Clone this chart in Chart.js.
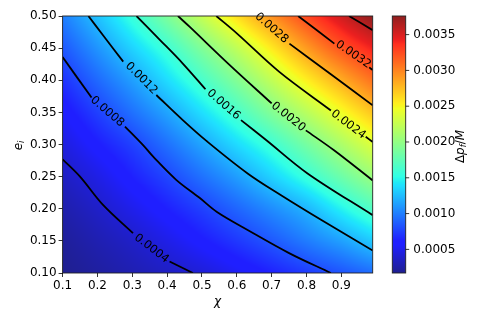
<!DOCTYPE html>
<html><head><meta charset="utf-8">
<script src="https://cdn.jsdelivr.net/npm/chart.js@4.4.1/dist/chart.umd.min.js"></script>
<style>html,body{margin:0;padding:0;background:#fff;}canvas{display:block;}</style>
</head><body>
<canvas id="c" width="485" height="323"></canvas>
<script>
// ---- data ----
const chiGrid = [0.1, 0.2, 0.3, 0.4, 0.5, 0.6, 0.7, 0.8, 0.9, 0.99];
const eGrid = [0.10, 0.15, 0.20, 0.25, 0.30, 0.35, 0.40, 0.45, 0.50];
const dpRow010 = [0.00017, 0.000228, 0.00029, 0.000353, 0.000426, 0.000527, 0.000628, 0.000729, 0.00083, 0.00093];
const dpRow015 = [0.000208, 0.00029, 0.000374, 0.000482, 0.000601, 0.00072, 0.000848, 0.000994, 0.00114, 0.001305];
const dpRow020 = [0.00027, 0.000372, 0.000494, 0.000624, 0.000754, 0.000902, 0.001059, 0.001224, 0.001465, 0.00168];
const dpRow025 = [0.00035, 0.000475, 0.000625, 0.000775, 0.000949, 0.001128, 0.001336, 0.001562, 0.001813, 0.00204];
const dpRow030 = [0.000446, 0.000607, 0.000757, 0.000947, 0.001154, 0.001372, 0.001593, 0.001855, 0.002125, 0.00237];
const dpRow035 = [0.000561, 0.000751, 0.000947, 0.001154, 0.00139, 0.001639, 0.001917, 0.00219, 0.002465, 0.00272];
const dpRow040 = [0.000693, 0.000915, 0.001133, 0.001378, 0.001639, 0.001921, 0.002229, 0.002533, 0.002823, 0.00308];
const dpRow045 = [0.000843, 0.00109, 0.001342, 0.001595, 0.001909, 0.002225, 0.002559, 0.002898, 0.003203, 0.00342];
const dpRow050 = [0.001, 0.001275, 0.001565, 0.001896, 0.002251, 0.002607, 0.002946, 0.003261, 0.003539, 0.00376];
const dpRows = [dpRow010, dpRow015, dpRow020, dpRow025, dpRow030, dpRow035, dpRow040, dpRow045, dpRow050];

// contour lines (chi, e); null = gap left for the inline label
const c0004 = [[0.1,0.277],[0.150,0.250],[0.216,0.206],[0.302,0.162],null,[0.407,0.118],[0.474,0.100]];
const c0008 = [[0.1,0.436],[0.183,0.373],null,[0.279,0.328],[0.331,0.299],[0.36,0.281],[0.426,0.245],[0.493,0.217],[0.543,0.195],[0.631,0.167],[0.75,0.131],[0.87,0.1]];
const c0012 = [[0.174,0.5],[0.216,0.470],[0.274,0.429],null,[0.369,0.377],[0.445,0.338],[0.512,0.306],[0.631,0.255],[0.727,0.221],[0.85,0.180],[0.99,0.135]];
const c0016 = [[0.312,0.5],[0.379,0.463],[0.445,0.426],[0.51,0.386],null,[0.612,0.338],[0.684,0.307],[0.803,0.255],[0.99,0.19]];
const c0020 = [[0.431,0.5],[0.465,0.483],[0.579,0.424],[0.70,0.364],null,[0.798,0.322],[0.879,0.291],[0.99,0.244]];
const c0024 = [[0.541,0.5],[0.60,0.473],[0.722,0.413],[0.870,0.353],null,[0.97,0.312],[0.99,0.304]];
const c0028 = [null,[0.751,0.457],[0.868,0.41],[0.99,0.361]];
const c0032 = [[0.776,0.5],[0.880,0.457],null,[0.98,0.42],[0.99,0.416]];
const c0036 = [[0.922,0.5],[0.99,0.478]];
const contours = [c0004, c0008, c0012, c0016, c0020, c0024, c0028, c0032, c0036];

const labelTexts = ['0.0004','0.0008','0.0012','0.0016','0.0020','0.0024','0.0028','0.0032'];
const labelChi   = [0.355, 0.228, 0.326, 0.562, 0.748, 0.92, 0.70, 0.934];
const labelE     = [0.138, 0.351, 0.403, 0.362, 0.343, 0.331, 0.481, 0.44];

const xTicks = [0.1, 0.2, 0.3, 0.4, 0.5, 0.6, 0.7, 0.8, 0.9];
const yTicks = [0.10, 0.15, 0.20, 0.25, 0.30, 0.35, 0.40, 0.45, 0.50];
const cbTicks = [0.0005, 0.0010, 0.0015, 0.0020, 0.0025, 0.0030, 0.0035];

// ---- helpers ----
const allVals = dpRows.flat();
const vmin = Math.min(...allVals), vmax = Math.max(...allVals);
const ALPHA = 0.88;
function seg(pts, t){
  for (let k = 0; k < pts.length - 1; k++) {
    if (t <= pts[k+1][0]) return pts[k][1] + (pts[k+1][1]-pts[k][1])*(t-pts[k][0])/(pts[k+1][0]-pts[k][0]);
  }
  return pts[pts.length-1][1];
}
const jR = [[0,0],[0.35,0],[0.66,1],[0.89,1],[1,0.5]];
const jG = [[0,0],[0.125,0],[0.375,1],[0.64,1],[0.91,0],[1,0]];
const jB = [[0,0.5],[0.11,1],[0.34,1],[0.65,0],[1,0]];
function jet(v){
  let t = (v - vmin)/(vmax - vmin); t = Math.max(0, Math.min(1, t));
  const f = c => Math.round(255 - ALPHA*(255 - 255*c));
  return [f(seg(jR,t)), f(seg(jG,t)), f(seg(jB,t))];
}
function fracIdx(arr, v){
  let i = 0; while (i < arr.length - 2 && v > arr[i+1]) i++;
  let t = (v - arr[i])/(arr[i+1]-arr[i]);
  return Math.max(0, Math.min(arr.length - 1, i + t));
}
function gv(i, j){
  const ni = chiGrid.length, nj = eGrid.length;
  if (i < 0) return 2*gv(0, j) - gv(1, j);
  if (i > ni - 1) return 2*gv(ni-1, j) - gv(ni-2, j);
  if (j < 0) return 2*gv(i, 0) - gv(i, 1);
  if (j > nj - 1) return 2*gv(i, nj-1) - gv(i, nj-2);
  return dpRows[j][i];
}
function cr(p0, p1, p2, p3, t){
  return 0.5*(2*p1 + (-p0 + p2)*t + (2*p0 - 5*p1 + 4*p2 - p3)*t*t + (-p0 + 3*p1 - 3*p2 + p3)*t*t*t);
}
function field(cx, ey){
  const fx = fracIdx(chiGrid, cx), fy = fracIdx(eGrid, ey);
  let i = Math.min(Math.floor(fx), chiGrid.length - 2), j = Math.min(Math.floor(fy), eGrid.length - 2);
  const t = fx - i, u = fy - j;
  const col = [];
  for (let m = -1; m <= 2; m++) col.push(cr(gv(i-1, j+m), gv(i, j+m), gv(i+1, j+m), gv(i+2, j+m), t));
  return cr(col[0], col[1], col[2], col[3], u);
}
function mathText(ctx, parts, cx, cy, rot){
  ctx.save();
  ctx.translate(cx, cy); ctx.rotate(rot);
  let W = 0;
  const ws = parts.map(p => { ctx.font = (p.it ? 'italic ' : '') + p.size + 'px "DejaVu Sans"'; const w = ctx.measureText(p.t).width; W += w; return w; });
  let x = -W/2;
  ctx.fillStyle = '#000'; ctx.textBaseline = 'alphabetic'; ctx.textAlign = 'left';
  parts.forEach((p, k) => { ctx.font = (p.it ? 'italic ' : '') + p.size + 'px "DejaVu Sans"'; ctx.fillText(p.t, x, p.dy || 0); x += ws[k]; });
  ctx.restore();
}

// ---- datasets: one per contour segment ----
const datasets = [];
contours.forEach(c => {
  let cur = [];
  c.forEach(p => {
    if (p === null) { if (cur.length) datasets.push(cur); cur = []; }
    else cur.push({x: p[0], y: p[1]});
  });
  if (cur.length) datasets.push(cur);
});

const fieldPlugin = {
  id: 'field',
  beforeDatasetsDraw(chart){
    const {ctx, chartArea: a, scales: {x, y}} = chart;
    const L = Math.floor(a.left), T = Math.floor(a.top), R = Math.ceil(a.right), B = Math.ceil(a.bottom);
    const w = R - L, h = B - T;
    const off = document.createElement('canvas'); off.width = w; off.height = h;
    const octx = off.getContext('2d'); const img = octx.createImageData(w, h);
    for (let j = 0; j < h; j++) {
      const ev = y.getValueForPixel(T + j + 0.5);
      for (let i = 0; i < w; i++) {
        const xv = x.getValueForPixel(L + i + 0.5);
        const col = jet(field(xv, ev));
        const k = (j*w + i)*4;
        img.data[k] = col[0]; img.data[k+1] = col[1]; img.data[k+2] = col[2]; img.data[k+3] = 255;
      }
    }
    octx.putImageData(img, 0, 0);
    ctx.save(); ctx.beginPath(); ctx.rect(a.left, a.top, a.right - a.left, a.bottom - a.top); ctx.clip();
    ctx.drawImage(off, L, T); ctx.restore();
  },
  afterDatasetsDraw(chart){
    const {ctx, chartArea: a, scales: {x, y}} = chart;
    labelTexts.forEach((txt, k) => {
      const c = contours[k];
      const gi = c.indexOf(null);
      const px = x.getPixelForValue(labelChi[k]), py = y.getPixelForValue(labelE[k]);
      const p0 = gi > 0 ? c[gi-1] : [labelChi[k], labelE[k]];
      const p1 = gi < c.length - 1 ? c[gi+1] : [labelChi[k], labelE[k]];
      const ang = Math.atan2(y.getPixelForValue(p1[1]) - y.getPixelForValue(p0[1]), x.getPixelForValue(p1[0]) - x.getPixelForValue(p0[0]));
      ctx.save(); ctx.translate(px, py); ctx.rotate(ang);
      ctx.font = '11.5px "DejaVu Sans"'; ctx.fillStyle = '#000'; ctx.textAlign = 'center'; ctx.textBaseline = 'middle';
      ctx.fillText(txt, 0, 0); ctx.restore();
    });
    ctx.save(); ctx.strokeStyle = '#222'; ctx.lineWidth = 0.9;
    ctx.strokeRect(a.left, a.top, a.right - a.left, a.bottom - a.top); ctx.restore();
  },
  afterDraw(chart){
    const {ctx, chartArea: a} = chart;
    const cb = chart.scales.cb;
    const x0 = cb.left + 19.6, cw = 13.4;
    for (let yy = Math.floor(cb.top); yy < Math.ceil(cb.bottom); yy++) {
      const c = jet(cb.getValueForPixel(yy + 0.5));
      ctx.fillStyle = 'rgb(' + c.join(',') + ')';
      ctx.fillRect(x0, yy, cw, 1);
    }
    ctx.save(); ctx.strokeStyle = '#222'; ctx.lineWidth = 0.9;
    ctx.strokeRect(x0, cb.top, cw, cb.bottom - cb.top);
    ctx.beginPath();
    cbTicks.forEach(v => { const yy = cb.getPixelForValue(v); ctx.moveTo(x0 + cw, yy); ctx.lineTo(x0 + cw + 3.5, yy); });
    ctx.strokeStyle = '#000'; ctx.lineWidth = 0.8; ctx.stroke(); ctx.restore();
    const midX = (a.left + a.right)/2, midY = (a.top + a.bottom)/2;
    mathText(ctx, [{t:'\u03C7', it:true, size:12}], midX, 304.5, 0);
    mathText(ctx, [{t:'e', it:true, size:12}, {t:'i', it:true, size:8.4, dy:2.2}], 21.5, midY + 1, -Math.PI/2);
    mathText(ctx, [{t:'\u0394', size:12}, {t:'p', it:true, size:12}, {t:'f', it:true, size:8.4, dy:2.2}, {t:'/', size:12}, {t:'M', it:true, size:12}], 463.5, midY + 2, -Math.PI/2);
  }
};

Chart.defaults.font.family = '"DejaVu Sans", sans-serif';
Chart.defaults.font.size = 12;
Chart.defaults.color = '#000';

new Chart(document.getElementById('c'), {
  type: 'scatter',
  data: { datasets: datasets.map(d => ({
    data: d, showLine: true, pointRadius: 0, borderColor: '#000', borderWidth: 1.8,
    tension: 0.35, borderCapStyle: 'butt', fill: false
  })) },
  options: {
    responsive: false, animation: false, events: [], devicePixelRatio: 1,
    layout: { padding: { top: 16, left: 0, right: 0, bottom: 0 } },
    plugins: { legend: { display: false }, tooltip: { enabled: false } },
    scales: {
      x: {
        type: 'linear', position: 'bottom', min: 0.1, max: 0.99,
        afterBuildTicks: s => { s.ticks = xTicks.map(v => ({ value: v })); },
        afterFit: s => { s.height = 50; },
        grid: { drawOnChartArea: false, drawTicks: true, tickLength: 4, tickColor: '#000', tickWidth: 0.8 },
        border: { display: false },
        ticks: { padding: 2, autoSkip: false, maxRotation: 0, callback: v => Number(v).toFixed(1) }
      },
      y: {
        type: 'linear', position: 'left', min: 0.1, max: 0.5,
        afterBuildTicks: s => { s.ticks = yTicks.map(v => ({ value: v })); },
        afterFit: s => { s.width = 62.6; },
        grid: { drawOnChartArea: false, drawTicks: true, tickLength: 4, tickColor: '#000', tickWidth: 0.8 },
        border: { display: false },
        ticks: { padding: 2, autoSkip: false, callback: v => Number(v).toFixed(2) }
      },
      cb: {
        type: 'linear', position: 'right', axis: 'y', min: vmin, max: vmax,
        afterBuildTicks: s => { s.ticks = cbTicks.map(v => ({ value: v })); },
        afterFit: s => { s.width = 485 - 372.7; },
        grid: { drawOnChartArea: false, drawTicks: true, tickLength: 37, tickColor: 'rgba(0,0,0,0)' },
        border: { display: false },
        ticks: { padding: 3.6, autoSkip: false, callback: v => Number(v).toFixed(4) }
      }
    }
  },
  plugins: [fieldPlugin]
});
</script>
</body></html>
